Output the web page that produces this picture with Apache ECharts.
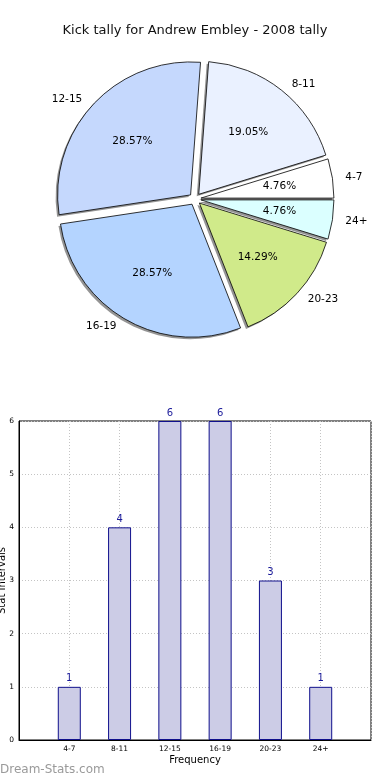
<!DOCTYPE html>
<html>
<head>
<meta charset="utf-8">
<script src="https://cdn.jsdelivr.net/npm/echarts@6/dist/echarts.min.js"></script>
<style>
html,body{margin:0;padding:0;background:#fff;}
#c{width:390px;height:780px;}
</style>
</head>
<body>
<div id="c"></div>
<script>
var titleText = 'Kick tally for Andrew Embley - 2008 tally';
var categories = ['4-7', '8-11', '12-15', '16-19', '20-23', '24+'];
var kicks = [1, 4, 6, 6, 3, 1];
var sliceColors = ['#ffffff', '#eaf1ff', '#c5d8fd', '#b4d4ff', '#d0ea8a', '#dbffff'];
var xTickLabels = ['', '4-7', '8-11', '12-15', '16-19', '20-23', '24+', ''];
var yMin = 0, yMax = 6, yStep = 1;
var xName = 'Frequency';
var yName = 'Stat Intervals';
var watermark = 'Dream-Stats.com';

var FONT = 'DejaVu Sans';
var R = 133, CX = 195, CY = 199, OFF = 6;

var pieData = categories.map(function (c, i) {
  return { name: c, value: kicks[i], selected: true, itemStyle: { color: sliceColors[i] } };
});
var plainData = categories.map(function (c, i) {
  return { name: c, value: kicks[i], selected: true };
});
var barData = [null].concat(kicks).concat([null]).map(function (v) { return v == null ? '-' : v; });

function pieBase(extra) {
  var o = {
    type: 'pie', center: [CX, CY], radius: [0, R],
    clockwise: false, startAngle: 0,
    selectedMode: 'multiple', selectedOffset: OFF,
    avoidLabelOverlap: false, silent: true,
    emphasis: { disabled: true },
    select: { itemStyle: {} }
  };
  for (var k in extra) o[k] = extra[k];
  return o;
}

var chart = echarts.init(document.getElementById('c'), null, { renderer: 'canvas' });
chart.setOption({
  animation: false,
  backgroundColor: '#ffffff',
  title: {
    text: titleText, left: 'center', top: 19,
    textStyle: { fontFamily: FONT, fontSize: 13, fontWeight: 'normal', color: '#111' }
  },
  graphic: [{
    type: 'text', left: 0, top: 764,
    style: { text: watermark, fontFamily: FONT, fontSize: 12, fill: '#9a9a9a' }
  }],
  grid: { left: 19, right: 19, top: 421, bottom: 40, show: true, borderColor: '#000', borderWidth: 1, outerBoundsMode: 'none', containLabel: false },
  xAxis: {
    type: 'category', data: xTickLabels, boundaryGap: false,
    name: xName, nameLocation: 'middle', nameGap: 15,
    nameTextStyle: { fontFamily: FONT, fontSize: 10, color: '#000' },
    axisLine: { lineStyle: { color: '#000' } },
    axisTick: { show: false },
    axisLabel: { interval: 0, fontFamily: FONT, fontSize: 7.5, color: '#000', margin: 5 },
    splitLine: { show: true, lineStyle: { type: [1, 2], color: '#c4c4c4' } }
  },
  yAxis: {
    type: 'value', min: yMin, max: yMax, interval: yStep,
    name: yName, nameLocation: 'middle', nameGap: 12, nameRotate: 90, nameMoveOverlap: false,
    nameTextStyle: { fontFamily: FONT, fontSize: 10, color: '#000' },
    axisLine: { show: true, lineStyle: { color: '#000' } },
    axisTick: { show: false },
    axisLabel: { fontFamily: FONT, fontSize: 7.5, color: '#000', margin: 5 },
    splitLine: { show: true, lineStyle: { type: [1, 2], color: '#c4c4c4' } }
  },
  series: [
    pieBase({
      center: [CX - 2, CY + 2],
      itemStyle: { color: 'rgba(60,60,60,0.55)', borderWidth: 0 },
      label: { show: false }, labelLine: { show: false },
      data: plainData
    }),
    pieBase({
      itemStyle: { borderColor: '#000', borderWidth: 0.8 },
      label: { show: true, position: 'outside', formatter: '{b}', fontFamily: FONT, fontSize: 10.5, color: '#000', distanceToLabelLine: 5 },
      labelLine: { show: false, length: 8, length2: 0 },
      data: pieData
    }),
    pieBase({
      radius: [0, R * 1.15],
      itemStyle: { color: 'rgba(0,0,0,0)', borderWidth: 0 },
      label: { show: true, position: 'inside', formatter: '{d}%', fontFamily: FONT, fontSize: 10.5, color: '#000' },
      labelLine: { show: false },
      data: plainData
    }),
    {
      type: 'bar', data: barData, barWidth: 23,
      itemStyle: { color: '#ccccE6', borderColor: '#10108c', borderWidth: 1 },
      label: { show: true, position: 'top', distance: 3, fontFamily: FONT, fontSize: 10, color: '#1a1a9a' }
    }
  ]
});
</script>
</body>
</html>
